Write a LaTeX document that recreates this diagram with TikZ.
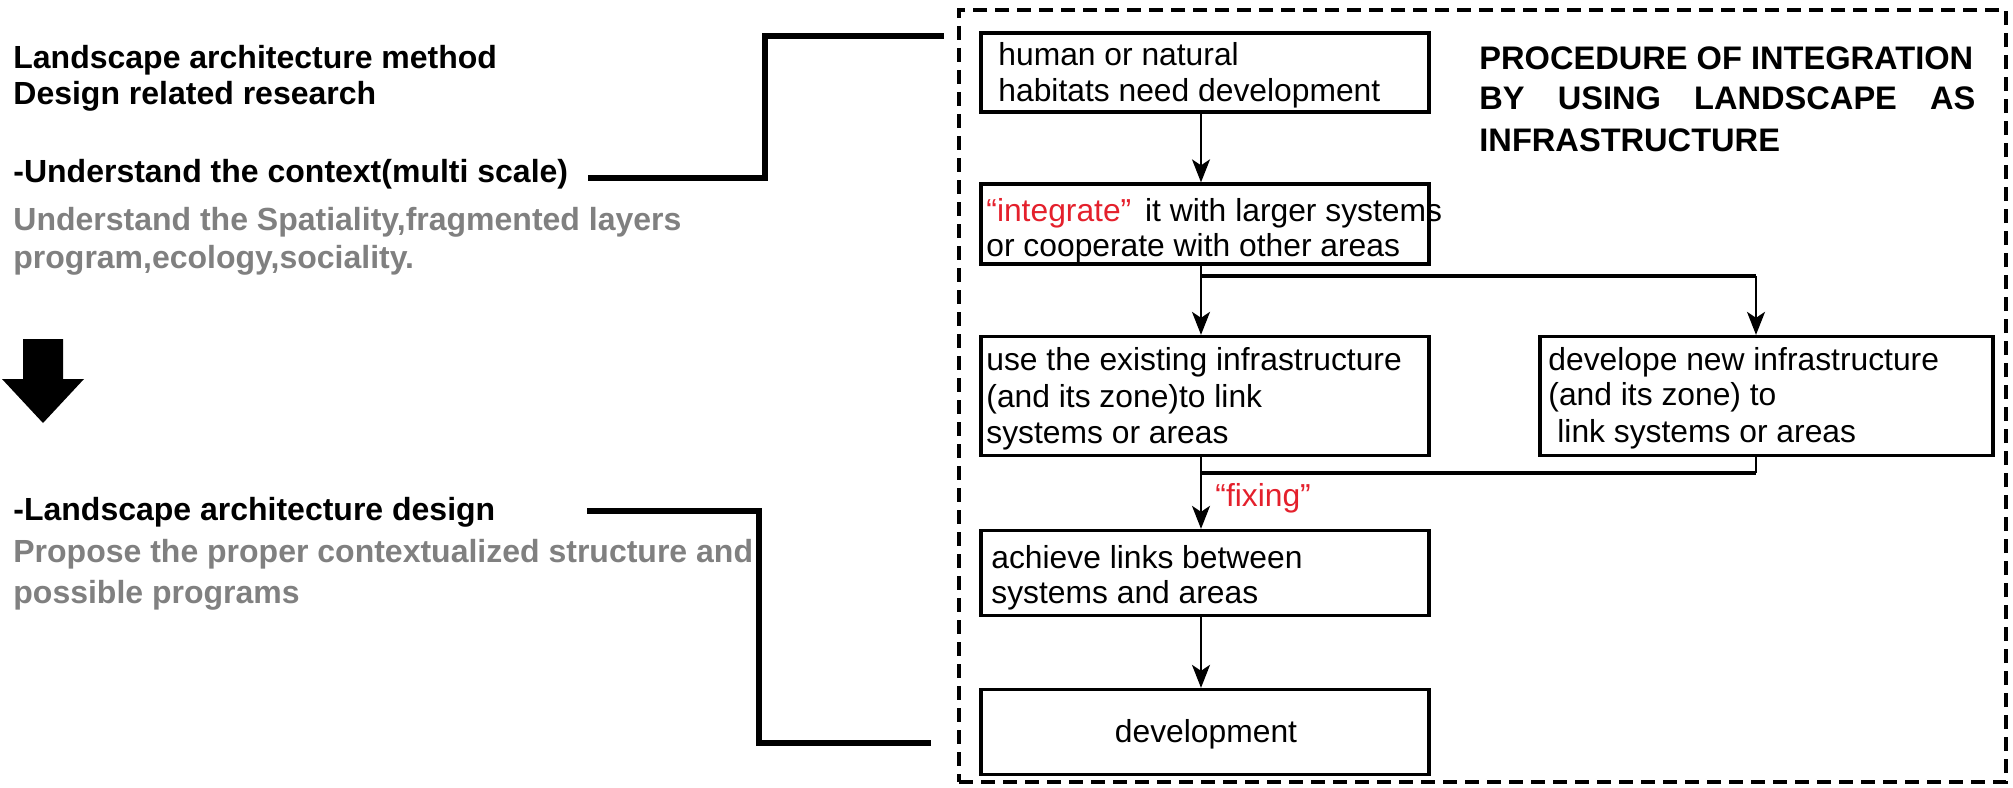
\documentclass[tikz,border=0pt]{standalone}
\usepackage{fontspec}
\setmainfont{Liberation Sans}
\usetikzlibrary{arrows.meta}
\definecolor{txtgray}{RGB}{128,128,128}
\definecolor{hired}{RGB}{228,32,44}
\begin{document}
\begin{tikzpicture}[x=0.5pt,y=-0.5pt,
  lefttxt/.style={anchor=base west, inner sep=0pt, font=\fontsize{16}{19}\selectfont\bfseries},
  graytxt/.style={lefttxt, text=txtgray},
  titletxt/.style={anchor=base west, inner sep=0pt, font=\fontsize{16.3}{19}\selectfont\bfseries},
  box/.style={draw, line width=1.65pt, inner sep=0pt},
  boxtxt/.style={anchor=base west, inner sep=0pt, font=\fontsize{15.9}{17.2}\selectfont},
  conn/.style={line width=2.8pt},
  stem/.style={line width=1.1pt},
  flow/.style={line width=1.1pt, -{Stealth[length=11.5pt, width=9pt, inset=3pt]}},
  bar/.style={line width=2pt},
  frame/.style={draw, line width=1.75pt, dash pattern=on 7pt off 4pt, inner sep=0pt},
]
\useasboundingbox (0,0) rectangle (2013,787);

% left texts
\node[lefttxt] (l1) at (13,68) {Landscape architecture method};
\node[lefttxt] (l2) at (13,104) {Design related research};
\node[lefttxt] (l3) at (13,182) {-Understand the context(multi scale)};
\node[graytxt] (l4) at (13,230) {Understand the Spatiality,fragmented layers};
\node[graytxt] (l5) at (13,268) {program,ecology,sociality.};
\node[lefttxt] (l6) at (13,520) {-Landscape architecture design};
\node[graytxt] (l7) at (13,562) {Propose the proper contextualized structure and};
\node[graytxt] (l8) at (13,603) {possible programs};

% big arrow
\fill (23,339) -- (63,339) -- (63,379) -- (84,379) -- (43,423) -- (2,379) -- (23,379) -- cycle;

% dashed frame
\node[frame, minimum width=523.5pt, minimum height=386pt] (frame) at (1482.5,396) {};

% title
\node[titletxt] (ti1) at (1479,69) {PROCEDURE OF INTEGRATION};
\node[titletxt] (ti2) at (1479,109) {\makebox[248pt][s]{BY\hfill USING\hfill LANDSCAPE\hfill AS}};
\node[titletxt] (ti3) at (1479,151) {INFRASTRUCTURE};

% boxes
\node[box, minimum width=224pt, minimum height=39.5pt] (b1) at (1205,72.5) {};
\node[box, minimum width=224pt, minimum height=40pt] (b2) at (1205,224) {};
\node[box, minimum width=224pt, minimum height=59.5pt] (b3) at (1205,396) {};
\node[box, minimum width=226.5pt, minimum height=59.5pt] (b4) at (1766.5,396) {};
\node[box, minimum width=224pt, minimum height=42.5pt] (b5) at (1205,573) {};
\node[box, minimum width=224pt, minimum height=42.5pt] (b6) at (1205,732) {};

% box texts
\node[boxtxt] (t1a) at (998,65) {human or natural};
\node[boxtxt] (t1b) at (998,101) {habitats need development};
\node[boxtxt] (t2a) at (986,221) {\textcolor{hired}{“integrate”}\hspace{2.5pt} it with larger systems};
\node[boxtxt] (t2b) at (986,256) {or cooperate with other areas};
\node[boxtxt] (t3a) at (986,370) {use the existing infrastructure};
\node[boxtxt] (t3b) at (986,407) {(and its zone)to link};
\node[boxtxt] (t3c) at (986,443) {systems or areas};
\node[boxtxt] (t4a) at (1548,370) {develope new infrastructure};
\node[boxtxt] (t4b) at (1548,405) {(and its zone) to};
\node[boxtxt] (t4c) at (1557,442) {link systems or areas};
\node[boxtxt] (t5a) at (991,568) {achieve links between};
\node[boxtxt] (t5b) at (991,603) {systems and areas};
\node[boxtxt, anchor=base] (t6) at (1206,742) {development};
\node[boxtxt, text=hired] (fix) at (1215,506) {“fixing”};

% flow connectors
\coordinate (ax) at (1201,0);
\coordinate (bx) at (1756,0);
\coordinate (split) at (1201,276);
\coordinate (merge) at (1201,473);
\draw[flow] (b1.south -| ax) -- (b2.north -| ax);
\draw[stem] (b2.south -| ax) -- (split);
\draw[bar] (split) -- (split -| bx);
\draw[flow] (split) -- (b3.north -| ax);
\draw[flow] (split -| bx) -- (b4.north -| bx);
\draw[stem] (b3.south -| ax) -- (merge);
\draw[stem] (b4.south -| bx) -- (merge -| bx);
\draw[bar] (merge) -- (merge -| bx);
\draw[flow] (merge) -- (b5.north -| ax);
\draw[flow] (b5.south -| ax) -- (b6.north -| ax);

% left connectors
\coordinate (c1a) at (588,178);
\coordinate (c1b) at (944,36);
\coordinate (c2a) at (587,511);
\coordinate (c2b) at (931,743);
\draw[conn] (c1a) -| (765,36) -- (c1b);
\draw[conn] (c2a) -| (759,743) -- (c2b);
\end{tikzpicture}
\end{document}
